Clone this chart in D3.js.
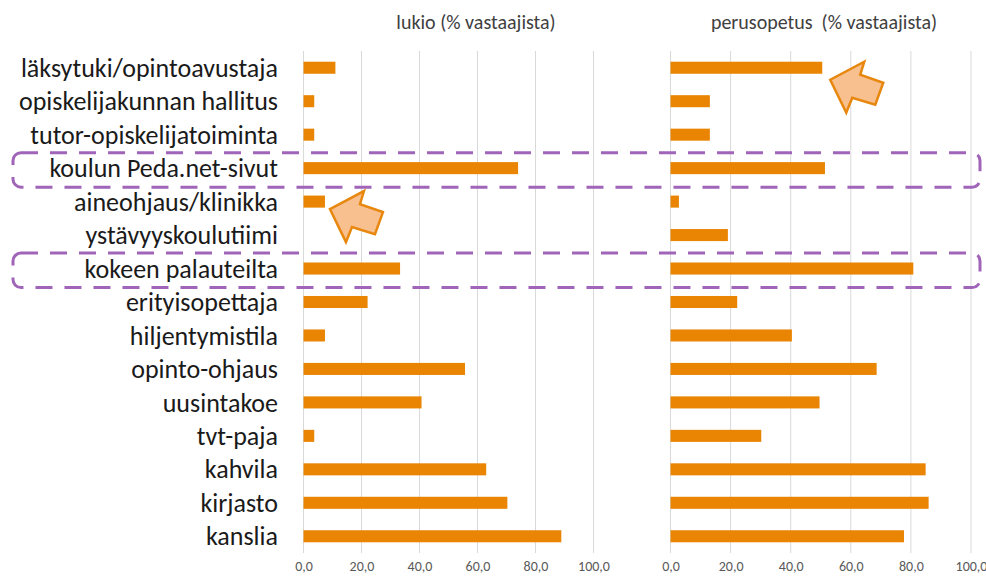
<!DOCTYPE html>
<html>
<head>
<meta charset="utf-8">
<script src="https://cdn.jsdelivr.net/npm/d3@7/dist/d3.min.js"></script>
<style>
  body { margin: 0; background: #fff; }
  svg { display: block; }
  .cat { font-family: Carlito, Lato, "Open Sans", sans-serif; font-size: 26px; fill: #1a1a1a; }
  .title { font-family: Carlito, Lato, "Open Sans", sans-serif; font-size: 20px; fill: #404040; white-space: pre; }
  .tick text { font-family: Carlito, Lato, "Open Sans", sans-serif; font-size: 14px; fill: #595959; }
</style>
</head>
<body>
<div id="chart-area"></div>
<script>
// categories top -> bottom
var categories = ["läksytuki/opintoavustaja", "opiskelijakunnan hallitus", "tutor-opiskelijatoiminta",
  "koulun Peda.net-sivut", "aineohjaus/klinikka", "ystävyyskoulutiimi", "kokeen palauteilta",
  "erityisopettaja", "hiljentymistila", "opinto-ohjaus", "uusintakoe", "tvt-paja",
  "kahvila", "kirjasto", "kanslia"];
// % vastaajista
var lukio = [11.0, 3.7, 3.7, 74.0, 7.4, 0, 33.3, 22.1, 7.4, 55.7, 40.7, 3.7, 63.0, 70.3, 88.9];
var perusopetus = [50.5, 13.1, 13.1, 51.4, 2.8, 19.1, 80.8, 22.2, 40.4, 68.6, 49.6, 30.2, 84.9, 85.9, 77.7];
var tickValues = [0, 20, 40, 60, 80, 100];
var titles = ["lukio (% vastaajista)", "perusopetus  (% vastaajista)"];
// highlighted rows (dashed boxes) and arrows
var boxedRows = ["koulun Peda.net-sivut", "kokeen palauteilta"];
var arrowTargets = [{panel: 0, cat: "aineohjaus/klinikka"}, {panel: 1, cat: "läksytuki/opintoavustaja"}];

var width = 986, height = 578;
var plotTop = 51, plotBottom = 553;

var svg = d3.select("#chart-area").append("svg")
    .attr("width", width)
    .attr("height", height);

var y = d3.scaleBand()
    .domain(categories)
    .range([plotTop, plotBottom])
    .paddingInner(0.64)
    .paddingOuter(0.32);
function yc(c){ return y(c) + y.bandwidth() / 2; }

var panels = [
  {data: lukio, x: d3.scaleLinear().domain([0, 100]).range([303.5, 593.5]), titleX: 476},
  {data: perusopetus, x: d3.scaleLinear().domain([0, 100]).range([670.5, 971]), titleX: 824}
];

panels.forEach(function(p, i){
    var g = svg.append("g");
    // gridlines
    g.selectAll("line.grid").data(tickValues).enter().append("line")
        .attr("class", "grid")
        .attr("x1", d => p.x(d)).attr("x2", d => p.x(d))
        .attr("y1", plotTop).attr("y2", plotBottom)
        .attr("stroke", "#d9d9d9").attr("stroke-width", 1);
    // bars
    g.selectAll("rect.bar").data(p.data).enter().append("rect")
        .attr("class", "bar")
        .attr("x", p.x(0))
        .attr("y", (d, j) => y(categories[j]))
        .attr("width", d => p.x(d) - p.x(0))
        .attr("height", y.bandwidth())
        .attr("fill", "#e98503");
    // axis labels
    var xAxis = d3.axisBottom(p.x)
        .tickValues(tickValues)
        .tickSize(0)
        .tickPadding(0)
        .tickFormat(d => d3.format(".1f")(d).replace(".", ","));
    var ax = svg.append("g")
        .attr("transform", "translate(0," + 561 + ")")
        .call(xAxis);
    ax.select(".domain").remove();
    // title
    svg.append("text")
        .attr("class", "title")
        .attr("x", p.titleX)
        .attr("y", 29)
        .attr("text-anchor", "middle")
        .text(titles[i]);
});

// category labels
svg.append("g").selectAll("text").data(categories).enter().append("text")
    .attr("class", "cat")
    .attr("x", 278)
    .attr("y", d => yc(d))
    .attr("dy", "0.35em")
    .attr("text-anchor", "end")
    .text(d => d);

// dashed highlight boxes
svg.append("g").selectAll("rect").data(boxedRows).enter().append("rect")
    .attr("x", 13)
    .attr("y", d => yc(d) - 15.5)
    .attr("width", 967)
    .attr("height", 34.5)
    .attr("rx", 8)
    .attr("fill", "none")
    .attr("stroke", "#a064b9")
    .attr("stroke-width", 3)
    .attr("stroke-dasharray", "17,12");

// block arrows pointing up-left at bar ends
var arrowShape = [[0,0],[34,-18],[30,-5],[53,3],[45,25],[22,18],[16,33]];
var line = d3.line();
svg.append("g").selectAll("path").data(arrowTargets).enter().append("path")
    .attr("d", function(a){
        var p = panels[a.panel];
        var v = p.data[categories.indexOf(a.cat)];
        var tx = p.x(v) + (a.panel === 0 ? 5 : 8);
        var ty = yc(a.cat) + (a.panel === 0 ? 7.5 : 12);
        return line(arrowShape.map(pt => [tx + pt[0], ty + pt[1]])) + "Z";
    })
    .attr("fill", "#f8bf8f")
    .attr("stroke", "#e8870e")
    .attr("stroke-width", 2.5)
    .attr("stroke-linejoin", "miter");
</script>
</body>
</html>
